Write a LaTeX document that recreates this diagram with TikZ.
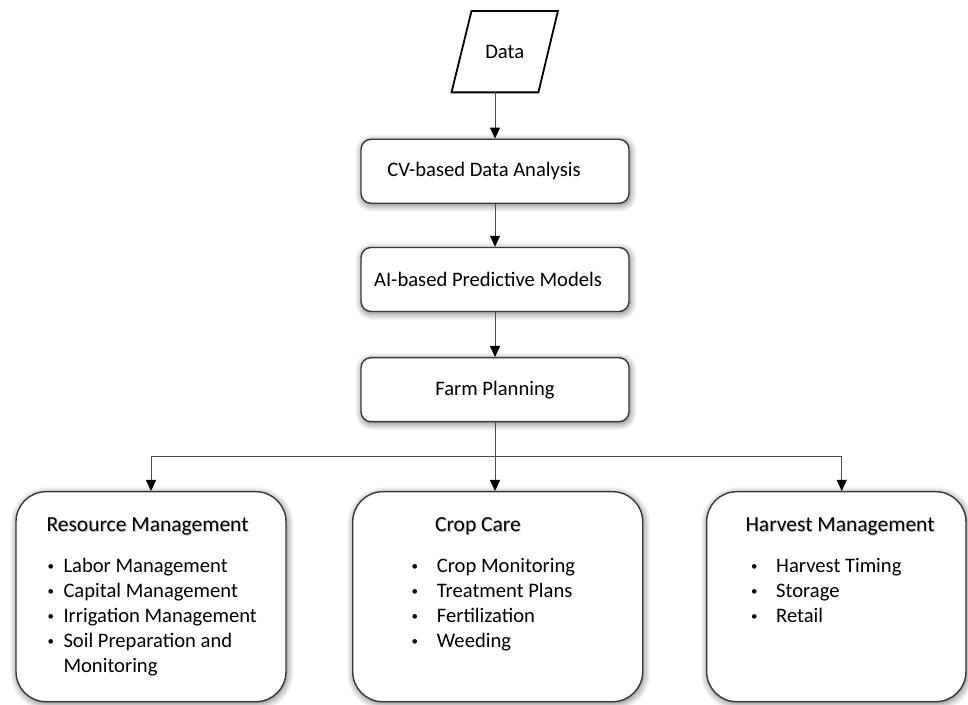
\documentclass[tikz,border=0pt]{standalone}
\usepackage{fontspec}
\setmainfont{Carlito}
\usepackage{xcolor}
\usepackage{tikz}
\usetikzlibrary{shadows.blur}
\usetikzlibrary{arrows.meta}

\newcommand{\shadowed}[1]{\makebox[0pt][l]{\hspace{1pt}\raisebox{-1.2pt}{\color{black!25}#1}}#1}
\newcommand{\dotitem}{\raisebox{2.4pt}{\fontsize{13}{13}\selectfont\textbullet}}

\tikzset{
  box/.style={draw=black!78,line width=1.4pt,fill=white,rounded corners=10pt,
    minimum width=268pt,minimum height=64pt,inner sep=0pt,
    blur shadow={shadow blur steps=10,shadow xshift=1pt,shadow yshift=-2pt,
      shadow blur radius=7pt,shadow opacity=55},
    font=\fontsize{20.6}{25}\selectfont},
  group/.style={box,rounded corners=30pt,minimum height=210pt},
  title/.style={inner sep=0pt,anchor=base,font=\fontsize{21.5}{25}\selectfont},
  items/.style={inner sep=0pt,anchor=north west,font=\fontsize{20.6}{25}\selectfont},
  link/.style={draw=black!70,line width=0.9pt,
    -{Triangle[width=10pt,length=11pt,color=black]}}
}

\begin{document}
\begin{tikzpicture}[x=1pt,y=1pt]
  \useasboundingbox (0,0) rectangle (968,704);

  % input (slanted box)
  \node[minimum width=86pt,minimum height=81pt,inner sep=0pt,
        font=\fontsize{20.6}{25}\selectfont] (data) at (504.7,652.3) {Data};
  \draw[line width=1.8pt,line join=miter]
        ([xshift=10pt]data.north west) -- ([xshift=10pt]data.north east)
     -- ([xshift=-9.5pt]data.south east) -- ([xshift=-10pt]data.south west) -- cycle;

  % processing chain
  \node[box] (cv) at (495,532.7) {CV-based Data Analysis\hspace*{22pt}};
  \node[box] (ai) at (495,424.5) {AI-based Predictive Models\hspace*{14pt}};
  \node[box] (fp) at (495,314.3) {Farm Planning};

  % outcome groups
  \node[group,minimum width=270pt]   (rm) at (151,107.3) {};
  \node[group,minimum width=290pt]   (cc) at (497.7,107.3) {};
  \node[group,minimum width=259.3pt] (hm) at (836.3,107.3) {};

  \node[title] (rmtitle) at (147.5,172.3) {\shadowed{Resource Management}};
  \node[title] (cctitle) at (478,172.3) {\shadowed{Crop Care}};
  \node[title] (hmtitle) at (840,172.3) {\shadowed{Harvest Management}};

  \node[items] (rmlist) at (47.5,148.8) {\begin{tabular}{@{}p{15.8pt}@{}l@{}}
    \dotitem & Labor Management\\
    \dotitem & Capital Management\\
    \dotitem & Irrigation Management\\
    \dotitem & Soil Preparation and\\
             & Monitoring
  \end{tabular}};
  \node[items] (cclist) at (411.5,148.8) {\begin{tabular}{@{}p{25.2pt}@{}l@{}}
    \dotitem & Crop Monitoring\\
    \dotitem & Treatment Plans\\
    \dotitem & Fertilization\\
    \dotitem & Weeding
  \end{tabular}};
  \node[items] (hmlist) at (750.8,148.8) {\begin{tabular}{@{}p{25.2pt}@{}l@{}}
    \dotitem & Harvest Timing\\
    \dotitem & Storage\\
    \dotitem & Retail
  \end{tabular}};

  % connectors
  \coordinate (split) at (495,247.3);
  \draw[link] ([xshift=-9.7pt]data.south) -- ([xshift=-9.7pt]data.south |- cv.north);
  \draw[link] (cv) -- (ai);
  \draw[link] (ai) -- (fp);
  \draw[draw=black!70,line width=0.9pt] (fp.south) -- (split);
  \draw[link] (split) -| (rm.north);
  \draw[link] (split) -- (split |- cc.north);
  \draw[link] (split) -| ([xshift=5.4pt]hm.north);
\end{tikzpicture}
\end{document}
